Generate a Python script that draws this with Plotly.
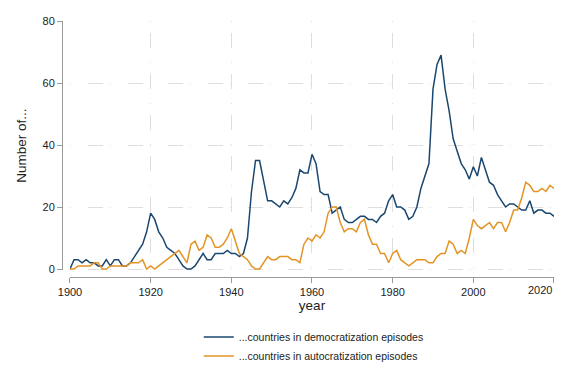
import plotly.graph_objects as go

years = list(range(1900, 2021))

democratization = [
    0, 3, 3, 2, 3, 2, 2, 1, 1, 3,        # 1900-1909
    1, 3, 3, 1, 1, 2, 4, 6, 8, 12,       # 1910-1919
    18, 16, 12, 10, 7, 6, 5, 3, 1, 0,    # 1920-1929
    0, 1, 3, 5, 3, 3, 5, 5, 5, 6,        # 1930-1939
    5, 5, 4, 5, 10, 25, 35, 35, 28, 22,  # 1940-1949
    22, 21, 20, 22, 21, 23, 26, 32, 31, 31,  # 1950-1959
    37, 34, 25, 24, 24, 18, 19, 20, 16, 15,  # 1960-1969
    15, 16, 17, 17, 16, 16, 15, 17, 18, 22,  # 1970-1979
    24, 20, 20, 19, 16, 17, 20, 26, 30, 34,  # 1980-1989
    58, 66, 69, 58, 51, 42, 38, 34, 32, 29,  # 1990-1999
    33, 30, 36, 32, 28, 27, 24, 22, 20, 21,  # 2000-2009
    21, 20, 19, 19, 22, 18, 19, 19, 18, 18,  # 2010-2019
    17,                                      # 2020
]

autocratization = [
    0, 0, 1, 1, 1, 1, 2, 2, 0, 0,        # 1900-1909
    1, 1, 1, 1, 1, 2, 2, 2, 3, 0,        # 1910-1919
    1, 0, 1, 2, 3, 4, 5, 6, 4, 2,        # 1920-1929
    8, 9, 6, 7, 11, 10, 7, 7, 8, 10,     # 1930-1939
    13, 9, 5, 4, 3, 1, 0, 0, 2, 4,       # 1940-1949
    3, 3, 4, 4, 4, 3, 3, 2, 8, 10,       # 1950-1959
    9, 11, 10, 12, 18, 20, 20, 15, 12, 13,   # 1960-1969
    13, 12, 15, 16, 11, 8, 8, 5, 5, 2,   # 1970-1979
    5, 6, 3, 2, 1, 2, 3, 3, 3, 2,        # 1980-1989
    2, 4, 5, 5, 9, 8, 5, 6, 5, 10,       # 1990-1999
    16, 14, 13, 14, 15, 13, 15, 15, 12, 15,  # 2000-2009
    19, 19, 23, 28, 27, 25, 25, 26, 25, 27,  # 2010-2019
    26,                                      # 2020
]

series_names = ["...countries in democratization episodes",
                "...countries in autocratization episodes"]
x_ticks = [1900, 1920, 1940, 1960, 1980, 2000, 2020]
x_tick_labels = ["1900", "1920", "1940", "1960", "1980", "2000", "2020"]
y_ticks = [0, 20, 40, 60, 80]
y_tick_labels = ["0", "20", "40", "60", "80"]

FONT = "Liberation Sans, Arial, Helvetica, sans-serif"
BLUE = "#1a476f"
ORANGE = "#e39424"
AXIS = "#9a9a9a"
GRID = "#dedede"
TEXT = "#222222"

fig = go.Figure()
fig.add_trace(go.Scatter(x=years, y=democratization, mode="lines",
                         name=series_names[0],
                         line=dict(color=BLUE, width=1.5)))
fig.add_trace(go.Scatter(x=years, y=autocratization, mode="lines",
                         name=series_names[1],
                         line=dict(color=ORANGE, width=1.5)))

# all tick labels but the last are drawn by the axis; the last one is kept
# inside the graph (right-aligned on its tick) as in the reference
axis_labels = x_tick_labels[:-1] + [""]

# the page body adds an 8px offset, margins compensate for it
fig.update_layout(
    width=576, height=384,
    margin=dict(l=54, r=30, t=13, b=115, autoexpand=False),
    paper_bgcolor="white", plot_bgcolor="white",
    font=dict(family=FONT, size=11, color=TEXT),
    showlegend=True,
    legend=dict(x=0.278, xanchor="left", y=-0.178, yanchor="top",
                font=dict(size=10.5, family=FONT, color=TEXT),
                bgcolor="rgba(0,0,0,0)", tracegroupgap=0),
    xaxis=dict(
        domain=[0.01626, 1], range=[1900, 2020],
        anchor="free", position=0,
        tickvals=x_ticks, ticktext=axis_labels,
        ticks="outside", ticklen=5, tickcolor=AXIS, tickwidth=1,
        showline=True, linecolor=AXIS, linewidth=1,
        showgrid=True, gridcolor=GRID, gridwidth=1,
        griddash="1px,11px,15px,14px",
        zeroline=False,
        tickfont=dict(size=11, family=FONT, color=TEXT),
        title=dict(text="year", font=dict(size=13.5, family=FONT, color=TEXT),
                   standoff=2),
    ),
    yaxis=dict(
        domain=[0.0264, 1], range=[-0.4, 80],
        anchor="free", position=0,
        tickvals=y_ticks, ticktext=y_tick_labels,
        ticks="outside", ticklen=5, tickcolor=AXIS, tickwidth=1,
        showline=True, linecolor=AXIS, linewidth=1,
        showgrid=True, gridcolor=GRID, gridwidth=1,
        griddash="1px,17px,15px,7px",
        zeroline=False,
        tickfont=dict(size=11, family=FONT, color=TEXT),
        title=dict(text="Number of...", font=dict(size=13.5, family=FONT, color=TEXT),
                   standoff=11),
    ),
)

fig.add_annotation(x=x_ticks[-1], xref="x", y=0, yref="paper",
                   text=x_tick_labels[-1], showarrow=False,
                   xanchor="right", yanchor="top", yshift=-5,
                   font=dict(size=11, family=FONT, color=TEXT))

fig.write_html("out.html")
